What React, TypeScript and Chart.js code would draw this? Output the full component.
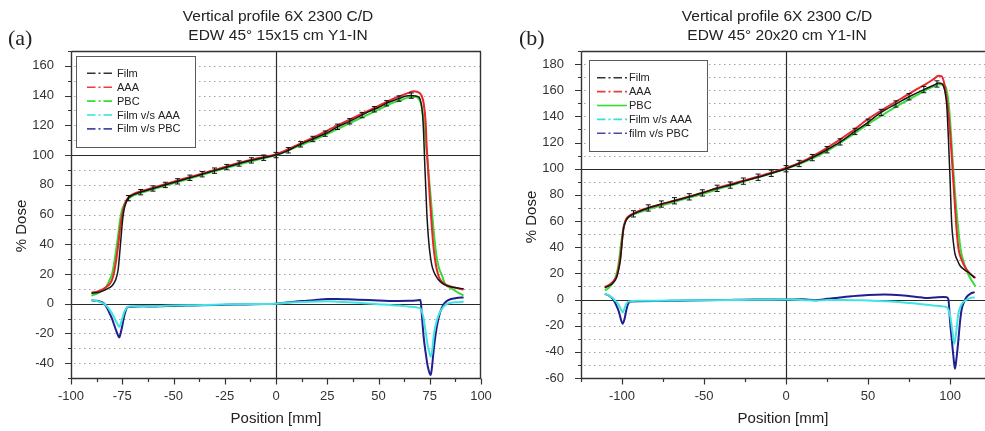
import React, { useEffect, useRef } from 'react';
import { Chart, registerables } from 'chart.js';

Chart.register(...registerables);

type Pt = [number, number];

// ---------- Panel (a): 15x15 cm ----------
const filmA: Pt[] = [
  [-90, 7], [-87, 7.5], [-85, 8.3], [-83, 9.5], [-81, 11], [-80, 12], [-79, 14], [-78, 17], [-77, 23], [-76.5, 30],
  [-76, 38], [-75.5, 46], [-75, 54], [-74.5, 60], [-74, 64], [-73, 68.5], [-72, 71], [-70, 73], [-65, 75.5], [-60, 77.5],
  [-55, 79.5], [-50, 81.5], [-45, 83.5], [-40, 85.5], [-35, 87.5], [-30, 89.5], [-25, 91.5], [-20, 93.5], [-15, 95.5],
  [-10, 97], [-5, 98.5], [0, 100], [5, 102.5], [10, 106], [15, 109], [20, 112], [25, 115], [30, 119], [35, 122],
  [40, 125.5], [45, 129], [50, 132], [55, 135.5], [60, 138], [63, 139.5], [66, 140], [68, 139.8], [70, 138.5],
  [71, 133], [71.5, 127], [72, 115], [72.5, 96], [73, 80], [73.5, 63], [74, 51], [74.5, 42], [75, 35], [76, 26],
  [77, 21.5], [78.5, 17.5], [80, 15], [82.5, 12.5], [86.5, 11], [91.5, 10],
];
const aaaA: Pt[] = [
  [-90, 7.5], [-87, 8.3], [-85, 9.3], [-83, 11], [-81, 13.5], [-80, 16], [-79, 21], [-78, 29], [-77, 39], [-76.5, 45],
  [-76, 51], [-75, 60], [-74, 66], [-73, 69.5], [-72, 71.5], [-70, 73.5], [-65, 76], [-60, 78], [-50, 82], [-40, 86],
  [-30, 90], [-20, 94], [-10, 97.5], [0, 100.5], [10, 106.5], [20, 113], [30, 120], [40, 126.5], [50, 133], [55, 136.5],
  [60, 139.5], [65, 142], [67, 143], [69, 142.5], [71, 140], [72, 135], [73, 122], [73.5, 106], [74, 95], [74.5, 83],
  [75, 72], [75.5, 62], [76, 52], [76.5, 43], [77, 36], [78, 26], [79, 20], [80, 16.5], [82, 13.5], [86, 11.2], [91.5, 9.5],
];
const pbcA: Pt[] = [
  [-90, 5.5], [-87, 7], [-85, 8.5], [-83, 11], [-82, 13.5], [-81, 16.5], [-80, 20], [-79, 27], [-78, 36], [-77, 46],
  [-76.5, 52], [-76, 57], [-75, 63.5], [-74, 67], [-73, 69], [-72, 70.5], [-70, 72.5], [-65, 75], [-60, 77], [-50, 81],
  [-40, 85], [-30, 89], [-20, 93], [-10, 96.5], [0, 100], [10, 105.5], [20, 111], [30, 117.5], [40, 124], [50, 130.5],
  [55, 134], [60, 136.5], [65, 138.8], [68, 139.2], [70, 137], [71, 133], [72, 124], [73, 110], [73.5, 102], [74, 94],
  [75, 79], [76, 63], [76.7, 52], [77.5, 41], [78.4, 31], [79.5, 24], [80.8, 19.5], [82.4, 13.5], [84, 11.5],
  [86.5, 9.4], [89, 7.3], [91.5, 5.6],
];
const filmVsAaaA: Pt[] = [
  [-90, 2.5], [-88, 2], [-86, 1.2], [-84, 0], [-83, -1], [-82, -2.5], [-81, -4.5], [-80, -6.5], [-79, -9], [-78, -12],
  [-77, -14.5], [-76.4, -15.6], [-76, -14.5], [-75, -10], [-74, -5.5], [-73, -3], [-72.5, -2.2], [-70, -1.8], [-60, -1.7],
  [-50, -1.3], [-40, -1], [-30, -0.7], [-20, -0.4], [-10, -0.2], [0, 0], [5, 0.6], [10, 1], [20, 1.4], [25, 1.6],
  [30, 1.3], [40, 0.6], [50, -0.3], [60, -1.3], [65, -2], [70, -3], [71, -4.5], [72, -10], [73, -19], [74, -28],
  [75, -34], [75.5, -35.7], [76.3, -30], [77, -21], [78.5, -11], [80, -5.5], [81.5, -2.5], [83, -0.5], [85, 0.5],
  [88, 1], [91.5, 1.3],
];
const filmVsPbcA: Pt[] = [
  [-90, 2.3], [-88, 2], [-86, 1.5], [-84, 0.3], [-83, -1.5], [-82, -4], [-81, -7], [-80, -10], [-79, -14], [-78, -18],
  [-77, -21.5], [-76.4, -22.7], [-76, -21], [-75, -15], [-74, -8], [-73, -3.5], [-72.5, -2.2], [-70, -2], [-65, -1.8],
  [-60, -1.9], [-55, -1.7], [-50, -1.5], [-40, -1.2], [-30, -0.9], [-24, -0.8], [-15, -0.5], [-5, -0.2], [0, 0],
  [5, 0.8], [10, 1.5], [15, 2], [20, 2.6], [25, 3.2], [30, 3.2], [35, 2.9], [40, 2.7], [50, 2.2], [60, 1.8], [65, 1.9],
  [68, 2.1], [70.5, 2.5], [71, -5], [72, -22], [73, -33], [74, -42], [75, -47], [75.5, -48], [76.3, -40], [77, -30],
  [78.5, -15], [80, -6], [81.5, -1], [83, 1.5], [85, 3], [88, 3.8], [91.5, 4.2],
];
const filmErrA: Pt[] = [
  [-72, 71], [-66, 75], [-60, 77.5], [-54, 79.9], [-48, 82.3], [-42, 84.7], [-36, 87.1], [-30, 89.5], [-24, 91.9],
  [-18, 94.3], [-12, 96.4], [-6, 98.2], [0, 100], [6, 103.2], [12, 107.2], [18, 110.8], [24, 114.4], [30, 119],
  [36, 122.7], [42, 126.9], [48, 130.8], [54, 134.8], [60, 138], [66, 140],
];

// ---------- Panel (b): 20x20 cm ----------
const filmB: Pt[] = [
  [-110.5, 9], [-108, 10.5], [-106, 12], [-104, 15], [-103, 18], [-102, 23], [-101, 30], [-100.5, 36], [-100, 43],
  [-99.5, 50], [-99, 55], [-98, 59], [-97, 61.5], [-95, 64], [-93, 65.5], [-90, 67], [-84, 70], [-76, 73], [-68, 75.5],
  [-59, 78.5], [-51, 81.5], [-42, 85], [-34, 87.5], [-26, 90.5], [-17, 93.5], [-9, 96.5], [0, 100], [8, 104],
  [16, 108.5], [25, 114.5], [33, 120.5], [42, 128.5], [50, 135.5], [58, 143], [67, 149.5], [75, 155], [84, 160.5],
  [90, 163.8], [93, 165.5], [95, 165], [96, 163], [97, 158], [98, 148], [99, 123], [100, 92], [101, 58], [102, 44],
  [103, 35], [104.5, 30], [106, 26], [109, 22.5], [112, 20], [115, 16.5],
];
const aaaB: Pt[] = [
  [-110.5, 9.5], [-108, 11], [-106, 13], [-104, 16], [-103, 19], [-102, 25], [-101, 33], [-100, 45], [-99, 55],
  [-98, 60], [-97, 62.5], [-95, 64.5], [-90, 67.5], [-80, 71.5], [-70, 75], [-60, 78.5], [-50, 82], [-40, 86],
  [-30, 89.5], [-20, 93], [-10, 96.5], [0, 100.5], [10, 105.5], [25, 116], [40, 128.5], [50, 138], [60, 146],
  [70, 153.5], [80, 161], [85, 164.5], [90, 168.5], [93, 171], [95, 170.5], [96.5, 165], [97.5, 158], [99, 143],
  [100, 128], [101, 110], [102, 90], [103, 71], [104, 53], [105, 40], [106, 34], [107.5, 29], [109, 25], [112, 20],
  [115.5, 16.5],
];
const pbcB: Pt[] = [
  [-110.5, 7], [-108, 9], [-106, 12], [-104, 17], [-103, 21], [-102, 28], [-101, 38], [-100, 48], [-99, 55],
  [-98, 59.5], [-97, 62], [-95, 64], [-90, 66.5], [-80, 70.5], [-70, 74], [-60, 77.5], [-50, 81], [-40, 85],
  [-30, 88.5], [-20, 92.5], [-10, 96], [0, 100], [10, 104.5], [25, 113.5], [40, 125.5], [51, 135], [60, 142],
  [70, 149.5], [80, 156.5], [85, 160], [90, 163], [93, 164.5], [96, 164], [97.5, 162], [98.5, 156], [99.5, 145],
  [100.5, 128], [101.5, 108], [102.5, 90], [103.5, 74], [104.5, 60], [105.5, 48], [106.5, 38], [108, 30], [109.5, 24],
  [112, 17], [115.5, 10],
];
const filmVsAaaB: Pt[] = [
  [-110.5, 4.3], [-108, 3], [-106, 1.5], [-104, -1], [-102, -4], [-100.5, -8], [-99.6, -9.7], [-98.5, -7],
  [-97.5, -3.5], [-96, -1.5], [-90, -1], [-70, -0.8], [-50, -0.5], [-20, -0.2], [0, 0], [10, -0.3], [18, -1],
  [25, -0.3], [35, -0.3], [50, -0.8], [60, -1.3], [70, -2], [80, -3.2], [90, -4.5], [95, -5.2], [98, -6], [100, -12],
  [101.5, -25], [102.6, -34], [104, -22], [105, -11], [106.5, -5], [108, -2], [111, 0.5], [115, 1.8],
];
const filmVsPbcB: Pt[] = [
  [-110.5, 4.3], [-108, 3], [-106, 1], [-104, -3], [-102, -9], [-100.5, -16], [-99.6, -18.6], [-98.5, -15],
  [-97.5, -9], [-96.5, -4], [-95, -1.5], [-90, -1.3], [-80, -1.2], [-70, -1], [-60, -0.8], [-50, -0.6], [-40, -0.4],
  [-30, -0.2], [-20, 0], [-10, 0], [0, 0], [10, 0.2], [18, -0.5], [25, 0.5], [30, 1.2], [40, 2.5], [50, 3.5],
  [60, 3.8], [70, 3.3], [80, 2], [85, 1.2], [90, 1.5], [96, 2], [98, 1.8], [99, 0], [100, -17], [101, -30],
  [102, -43], [103, -53], [104, -44], [105, -32], [106, -18], [107, -8], [108.5, -2], [110, 1.8], [112.5, 4.5], [115, 5.7],
];
const filmErrB: Pt[] = [
  [-93, 65.5], [-84, 70], [-76, 73], [-68, 75.5], [-59, 78.5], [-51, 81.5], [-42, 85], [-34, 87.5], [-26, 90.5],
  [-17, 93.5], [-9, 96.5], [0, 100], [8, 104], [16, 108.5], [25, 114.5], [33, 120.5], [42, 128.5], [50, 135.5],
  [58, 143], [67, 149.5], [75, 155], [84, 160.5], [92, 164.8],
];

const labelsA = ['Film', 'AAA', 'PBC', 'Film v/s AAA', 'Film v/s PBC'];
const labelsB = ['Film', 'AAA', 'PBC', 'Film v/s AAA', 'film v/s PBC'];
const titleA = ['Vertical profile 6X 2300 C/D', 'EDW 45\u00b0 15x15 cm Y1-IN'];
const titleB = ['Vertical profile 6X 2300 C/D', 'EDW 45\u00b0 20x20 cm Y1-IN'];

// ---------- styles ----------
const SANS = '"Liberation Sans", Arial, Helvetica, sans-serif';
const SERIF = '"Liberation Serif", "Times New Roman", serif';
const seriesColors = ['#161616', '#e8262b', '#38dc38', '#40e4e4', '#1f1f8f'];
const legendColors = ['#333333', '#ee3a3a', '#33dd33', '#33e0e0', '#4848a8'];
const lineWidths = [1.5, 2, 2, 2, 2];

const isMult = (v: number, s: number) => Math.abs(v / s - Math.round(v / s)) < 1e-6;

interface Spec {
  letter: string;
  title: string[];
  series: Pt[][];
  labels: string[];
  legendDash: boolean[];
  err: Pt[];
  errHalf: number;
  xMin: number; xMax: number; xStep: number; xLabelStep: number;
  yMin: number; yMax: number; yLabelStep: number;
  canvasLeft: number; canvasWidth: number; yAxisWidth: number; padRight: number; frameRight: boolean;
  titleX: number; yTitleX: number; yTitleY: number; letterX: number;
  lg: { dx: number; dy: number; w: number; h: number; sx: number; sl: number; tx: number; ry: number; step: number };
}

const specA: Spec = {
  letter: '(a)', title: titleA,
  series: [filmA, aaaA, pbcA, filmVsAaaA, filmVsPbcA], labels: labelsA,
  legendDash: [true, true, true, true, true], err: filmErrA, errHalf: 1.8,
  xMin: -100, xMax: 100, xStep: 12.5, xLabelStep: 25,
  yMin: -50, yMax: 170, yLabelStep: 20,
  canvasLeft: 0, canvasWidth: 505, yAxisWidth: 71, padRight: 24, frameRight: true,
  titleX: 278, yTitleX: 22, yTitleY: 226, letterX: 8,
  lg: { dx: 5, dy: 5, w: 119, h: 91, sx: 11, sl: 27, tx: 41, ry: 17.3, step: 13.9 },
};
const specB: Spec = {
  letter: '(b)', title: titleB,
  series: [filmB, aaaB, pbcB, filmVsAaaB, filmVsPbcB], labels: labelsB,
  legendDash: [true, true, false, true, true], err: filmErrB, errHalf: 2.4,
  xMin: -125, xMax: 121.3, xStep: 25, xLabelStep: 50,
  yMin: -60, yMax: 190, yLabelStep: 20,
  canvasLeft: 490, canvasWidth: 495, yAxisWidth: 91, padRight: 0, frameRight: false,
  titleX: 287, yTitleX: 42, yTitleY: 217, letterX: 29,
  lg: { dx: 8, dy: 9, w: 118, h: 91, sx: 8, sl: 30, tx: 40, ry: 17.7, step: 13.9 },
};

const decor = {
  id: 'decor',
  beforeDatasetsDraw(chart: any, _a: any, o: any) {
    const s: Spec = o.spec;
    const { ctx, chartArea: a, scales } = chart;
    const x = scales.x, y = scales.y;
    ctx.save();
    ctx.lineWidth = 1;
    ctx.strokeStyle = '#a2a2a2';
    ctx.setLineDash([1.5, 3.5]);
    y.ticks.forEach((t: any) => {
      const v = t.value;
      if (v === s.yMin || v === s.yMax || v === 0 || v === 100) return;
      const py = Math.round(y.getPixelForValue(v)) + 0.5;
      ctx.beginPath(); ctx.moveTo(a.left + 3, py); ctx.lineTo(a.right, py); ctx.stroke();
    });
    ctx.setLineDash([]);
    ctx.strokeStyle = '#2a2a2a';
    ctx.lineWidth = 1.2;
    [0, 100].forEach((v) => {
      const py = Math.round(y.getPixelForValue(v)) + 0.5;
      ctx.beginPath(); ctx.moveTo(a.left, py); ctx.lineTo(a.right, py); ctx.stroke();
    });
    const px0 = Math.round(x.getPixelForValue(0)) + 0.5;
    ctx.beginPath(); ctx.moveTo(px0, a.top); ctx.lineTo(px0, a.bottom); ctx.stroke();
    ctx.restore();
  },
  afterDatasetsDraw(chart: any, _a: any, o: any) {
    const s: Spec = o.spec;
    const { ctx, chartArea: a, scales } = chart;
    const x = scales.x, y = scales.y;
    ctx.save();
    // error bars on the film profile
    ctx.strokeStyle = '#111';
    ctx.lineWidth = 1;
    s.err.forEach(([ex, ey]) => {
      const px = x.getPixelForValue(ex);
      const p1 = y.getPixelForValue(ey + s.errHalf);
      const p2 = y.getPixelForValue(ey - s.errHalf);
      ctx.beginPath();
      ctx.moveTo(px, p1); ctx.lineTo(px, p2);
      ctx.moveTo(px - 2.5, p1); ctx.lineTo(px + 2.5, p1);
      ctx.moveTo(px - 2.5, p2); ctx.lineTo(px + 2.5, p2);
      ctx.stroke();
    });
    // frame
    ctx.strokeStyle = '#333';
    ctx.lineWidth = 1.4;
    const L = a.left + 0.5, R = a.right - 0.5, T = a.top + 0.5, B = a.bottom + 0.5;
    ctx.beginPath();
    ctx.moveTo(L, T); ctx.lineTo(L, B); ctx.lineTo(a.right, B);
    ctx.moveTo(L, T); ctx.lineTo(a.right, T);
    if (s.frameRight) { ctx.moveTo(R, T); ctx.lineTo(R, B); }
    ctx.stroke();
    // tick marks
    ctx.lineWidth = 1.2;
    ctx.beginPath();
    x.ticks.forEach((t: any) => {
      const px = Math.round(x.getPixelForValue(t.value)) + 0.5;
      const len = isMult(t.value, s.xLabelStep) ? 6 : 3.5;
      ctx.moveTo(px, B); ctx.lineTo(px, B + len);
    });
    y.ticks.forEach((t: any) => {
      const py = Math.round(y.getPixelForValue(t.value)) + 0.5;
      const len = isMult(t.value, s.yLabelStep) ? 6.5 : 3.5;
      ctx.moveTo(L, py); ctx.lineTo(L - len, py);
    });
    ctx.stroke();
    // legend
    const bx = a.left + s.lg.dx, by = a.top + s.lg.dy;
    ctx.fillStyle = '#ffffff';
    ctx.fillRect(bx, by, s.lg.w, s.lg.h);
    ctx.strokeStyle = '#5a5a5a';
    ctx.lineWidth = 1;
    ctx.strokeRect(Math.round(bx) + 0.5, Math.round(by) + 0.5, s.lg.w, s.lg.h);
    chart.data.datasets.forEach((d: any, i: number) => {
      const ry = by + s.lg.ry + i * s.lg.step;
      ctx.strokeStyle = legendColors[i];
      ctx.lineWidth = 1.6;
      ctx.setLineDash(s.legendDash[i] ? [8.5, 3, 2, 3] : []);
      ctx.beginPath(); ctx.moveTo(bx + s.lg.sx, ry); ctx.lineTo(bx + s.lg.sx + s.lg.sl, ry); ctx.stroke();
      ctx.setLineDash([]);
      ctx.fillStyle = '#222';
      ctx.font = `11px ${SANS}`;
      ctx.textAlign = 'left';
      ctx.textBaseline = 'middle';
      ctx.fillText(d.label, bx + s.lg.tx, ry + 0.5);
    });
    // chart title
    ctx.fillStyle = '#222';
    ctx.font = `15.5px ${SANS}`;
    ctx.textAlign = 'center';
    ctx.textBaseline = 'alphabetic';
    ctx.fillText(s.title[0], s.titleX, 20.7);
    ctx.fillText(s.title[1], s.titleX, 40);
    // panel letter
    ctx.font = `22px ${SERIF}`;
    ctx.textAlign = 'left';
    ctx.fillText(s.letter, s.letterX, 45);
    // y-axis title
    ctx.translate(s.yTitleX, s.yTitleY);
    ctx.rotate(-Math.PI / 2);
    ctx.font = `15px ${SANS}`;
    ctx.textAlign = 'center';
    ctx.textBaseline = 'middle';
    ctx.fillText('% Dose', 0, 0);
    ctx.restore();
  },
};

function buildConfig(s: Spec): any {
  const datasets = s.series.map((pts, i) => ({
    label: s.labels[i],
    data: pts.map(([px, py]) => ({ x: px, y: py })),
    borderColor: seriesColors[i],
    backgroundColor: seriesColors[i],
    borderWidth: lineWidths[i],
    pointRadius: 0,
    fill: false,
    cubicInterpolationMode: 'monotone',
  }));
  return {
    type: 'line',
    data: { datasets },
    plugins: [decor],
    options: {
      animation: false,
      responsive: false,
      events: [],
      layout: { padding: { top: 51, left: 0, right: s.padRight, bottom: 0 } },
      plugins: {
        legend: { display: false },
        tooltip: { enabled: false },
        title: { display: false },
        decor: { spec: s },
      },
      scales: {
        x: {
          type: 'linear',
          min: s.xMin,
          max: s.xMax,
          afterFit: (sc: any) => {
            sc.height = 53;
            sc.paddingLeft = 0;
            sc.paddingRight = 0;
          },
          ticks: {
            stepSize: s.xStep,
            autoSkip: false,
            includeBounds: false,
            maxRotation: 0,
            padding: 3,
            color: '#333',
            font: { family: SANS, size: 13 },
            callback: (v: number) => (isMult(v, s.xLabelStep) ? String(v) : ''),
          },
          grid: { display: false },
          border: { display: false },
          title: {
            display: true,
            text: 'Position [mm]',
            color: '#222',
            font: { family: SANS, size: 15 },
            padding: { top: 0, bottom: 3 },
          },
        },
        y: {
          type: 'linear',
          min: s.yMin,
          max: s.yMax,
          afterFit: (sc: any) => {
            sc.width = s.yAxisWidth;
            sc.paddingTop = 0;
            sc.paddingBottom = 0;
          },
          ticks: {
            stepSize: 10,
            autoSkip: false,
            includeBounds: false,
            padding: 9,
            color: '#333',
            font: { family: SANS, size: 13 },
            callback: (v: number) => (isMult(v, s.yLabelStep) ? String(v) : ''),
          },
          grid: { display: false },
          border: { display: false },
        },
      },
    },
  };
}

function Panel({ spec }: { spec: Spec }) {
  const ref = useRef<HTMLCanvasElement>(null);
  useEffect(() => {
    const chart = new Chart(ref.current as HTMLCanvasElement, buildConfig(spec));
    return () => chart.destroy();
  }, [spec]);
  return (
    <canvas
      ref={ref}
      width={spec.canvasWidth}
      height={431}
      style={{ position: 'absolute', left: spec.canvasLeft, top: 0, width: spec.canvasWidth, height: 431 }}
    />
  );
}

export default function App() {
  return (
    <div style={{ position: 'absolute', left: 0, top: 0, width: 985, height: 431, background: '#ffffff', overflow: 'hidden' }}>
      <Panel spec={specA} />
      <Panel spec={specB} />
    </div>
  );
}
